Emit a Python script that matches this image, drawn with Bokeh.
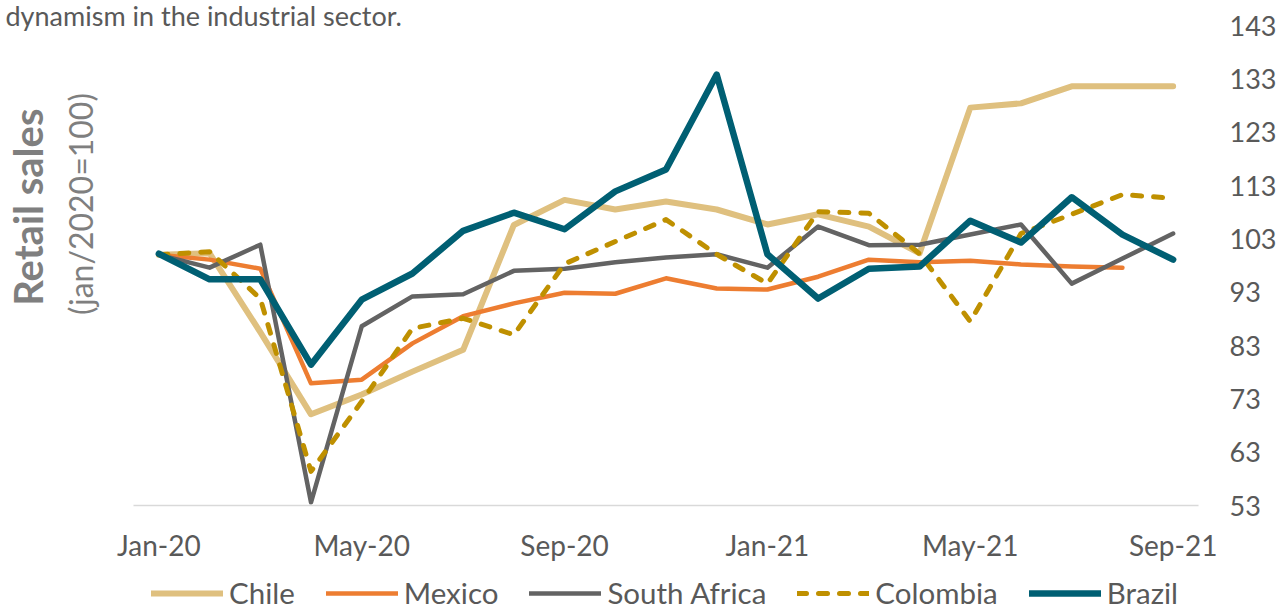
from bokeh.plotting import figure
from bokeh.layouts import column
from bokeh.models import (Range1d, LinearAxis, FixedTicker, Legend, LegendItem, Title)
from bokeh.embed import file_html
from bokeh.resources import INLINE

months = ["Jan-20", "Feb-20", "Mar-20", "Apr-20", "May-20", "Jun-20", "Jul-20", "Aug-20",
          "Sep-20", "Oct-20", "Nov-20", "Dec-20", "Jan-21", "Feb-21", "Mar-21", "Apr-21",
          "May-21", "Jun-21", "Jul-21", "Aug-21", "Sep-21"]

chile = [100, 100.3, 85.5, 70.1, 73.8, 78.1, 82.2, 105.6, 110.3, 108.5, 110.0, 108.5,
         105.7, 107.6, 105.3, 100.3, 127.6, 128.4, 131.6, 131.6, 131.6]
mexico = [100, 99.1, 97.4, 75.9, 76.6, 83.4, 88.5, 90.9, 92.9, 92.7, 95.6, 93.7,
          93.5, 95.9, 99.1, 98.6, 98.9, 98.2, 97.8, 97.6]
south_africa = [100, 97.6, 101.9, 53.6, 86.6, 92.2, 92.6, 97.0, 97.4, 98.6, 99.5, 100.1,
                97.6, 105.3, 101.8, 101.9, 103.8, 105.7, 94.6, 99.3, 104.0]
colombia = [100, 100.6, 91.8, 59.4, 72.5, 86.2, 88.1, 85.0, 98.3, 102.5, 106.6, 100.1,
            94.6, 108.1, 107.8, 100.2, 87.5, 104.0, 107.6, 111.3, 110.6]
brazil = [100.2, 95.4, 95.4, 79.4, 91.6, 96.5, 104.5, 107.9, 104.8, 111.9, 116.0, 133.8,
          100.1, 91.8, 97.4, 97.8, 106.4, 102.3, 110.8, 103.8, 99.1]

series_names = ["Chile", "Mexico", "South Africa", "Colombia", "Brazil"]
series_data = [chile, mexico, south_africa, colombia, brazil]

y_ticks = [53, 63, 73, 83, 93, 103, 113, 123, 133, 143]
x_tick_idx = [0, 4, 8, 12, 16, 20]

FONT = "Lato"
TXT = "#595959"
LBL = "#7F7F7F"

styles = [
    dict(line_color="#DFC07F", line_width=6),
    dict(line_color="#ED7D31", line_width=4.5),
    dict(line_color="#636363", line_width=4.5),
    dict(line_color="#BF9000", line_width=5, line_dash="9 12"),
    dict(line_color="#005F73", line_width=6.5),
]

def xs(vals):
    return list(range(len(vals)))

p = figure(width=1281, height=566, output_backend="svg", toolbar_location=None,
           x_range=Range1d(-0.5, len(months) - 0.5), y_range=Range1d(y_ticks[0], y_ticks[-1]),
           min_border_left=130, min_border_right=83, min_border_top=25, min_border_bottom=61,
           y_axis_location=None)
p.outline_line_color = None
p.xgrid.visible = False
p.ygrid.visible = False
p.background_fill_color = "white"
p.border_fill_color = "white"

# top text (continuation of the article text)
p.add_layout(Title(text="dynamism in the industrial sector.", align="left", offset=-128,
                   vertical_align="bottom", standoff=-12, text_font=FONT, text_font_size="27px",
                   text_font_style="normal", text_color=TXT), "above")

# x axis
xa = p.xaxis[0]
xa.ticker = FixedTicker(ticks=x_tick_idx)
xa.major_label_overrides = {i: months[i] for i in x_tick_idx}
xa.axis_line_color = "#D9D9D9"
xa.axis_line_width = 1.5
xa.major_tick_line_color = None
xa.minor_tick_line_color = None
xa.major_tick_out = 0
xa.major_label_text_font = FONT
xa.major_label_text_font_size = "28px"
xa.major_label_text_color = TXT
xa.major_label_standoff = 22

# right y axis
ya = LinearAxis(ticker=FixedTicker(ticks=y_ticks))
ya.axis_line_color = None
ya.major_tick_line_color = None
ya.minor_tick_line_color = None
ya.major_tick_out = 0
ya.major_label_text_font = FONT
ya.major_label_text_font_size = "27px"
ya.major_label_text_color = TXT
ya.major_label_standoff = 31
p.add_layout(ya, "right")

# left titles as label-only axes (leading no-break spaces lift the centred text)
def label_axis(text, size, style, standoff):
    ax = LinearAxis(ticker=FixedTicker(ticks=[]))
    ax.axis_line_color = None
    ax.major_tick_line_color = None
    ax.minor_tick_line_color = None
    ax.major_tick_out = 0
    ax.minor_tick_out = 0
    ax.major_label_standoff = 0
    ax.axis_label = text
    ax.axis_label_text_font = FONT
    ax.axis_label_text_font_size = size
    ax.axis_label_text_font_style = style
    ax.axis_label_text_color = LBL
    ax.axis_label_standoff = standoff
    return ax

NB = "\u00a0"
p.add_layout(label_axis(NB * 15 + "(jan/2020=100)", "32px", "normal", 34), "left")
p.add_layout(label_axis(NB * 12 + "Retail sales", "40px", "bold", 6), "left")

for vals, st in zip(series_data, styles):
    p.line(xs(vals), vals, line_cap="round", line_join="round", **st)

# legend strip (separate small figure; its lines lie outside its view)
lg = figure(width=1281, height=44, output_backend="svg", toolbar_location=None,
            x_range=Range1d(-0.5, len(months) - 0.5), y_range=Range1d(0, 1),
            min_border_left=0, min_border_right=0, min_border_top=0, min_border_bottom=0,
            x_axis_location=None, y_axis_location=None)
lg.outline_line_color = None
lg.xgrid.visible = False
lg.ygrid.visible = False
items = []
for name, vals, st in zip(series_names, series_data, styles):
    r = lg.line(xs(vals), vals, line_cap="round", line_join="round", **st)
    items.append(LegendItem(label=name, renderers=[r]))
legend = Legend(items=items, orientation="horizontal", location=(18, 0),
                glyph_width=72, glyph_height=30, label_standoff=6, spacing=31,
                padding=0, margin=0, border_line_alpha=0, background_fill_alpha=0,
                label_text_font=FONT, label_text_font_size="29.5px", label_text_color=TXT,
                label_height=30)
lg.add_layout(legend, "center")

layout = column(p, lg, spacing=0)
open("out.html", "w").write(file_html(layout, INLINE))
